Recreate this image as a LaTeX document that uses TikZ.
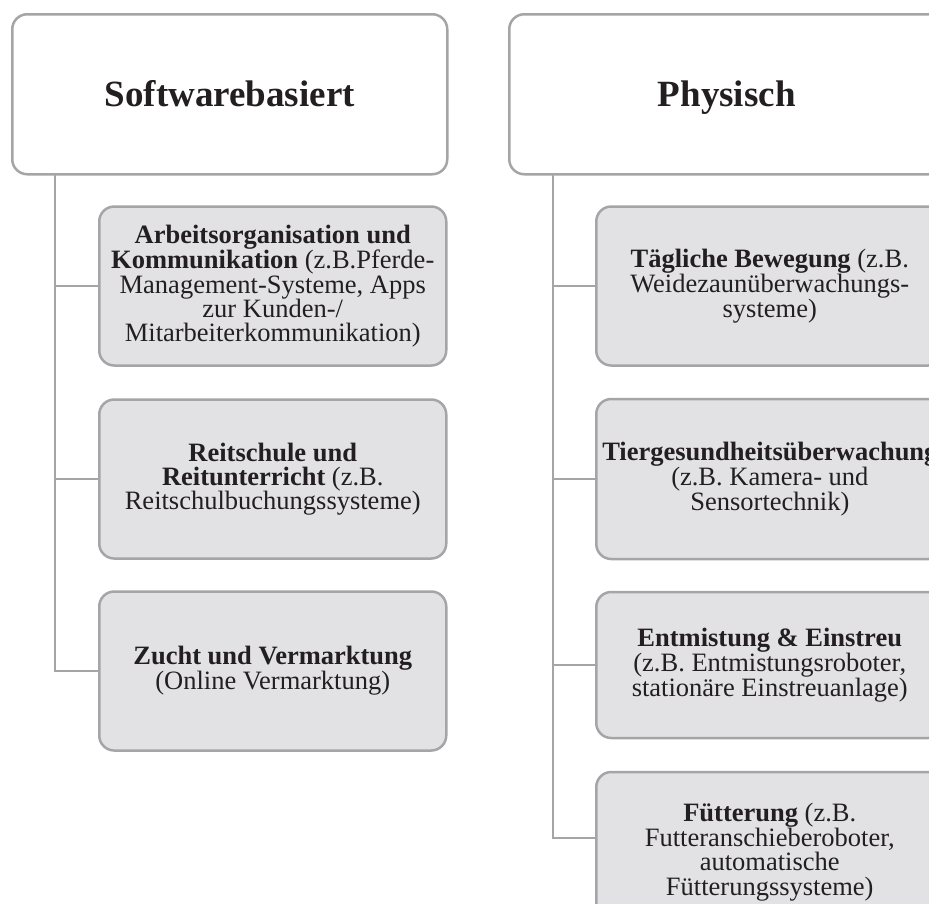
\documentclass[tikz,border=0pt]{standalone}
\usepackage{fontspec}
\setmainfont{Liberation Serif}

\definecolor{linegray}{RGB}{165,165,167}
\definecolor{boxgray}{RGB}{226,226,228}
\definecolor{inkblack}{RGB}{35,31,32}

\begin{document}
\begin{tikzpicture}[x=1pt, y=-1pt,
    every node/.style={text=inkblack},
    kopf/.style={draw=linegray, line width=2.5pt, fill=white, rounded corners=15pt,
      minimum width=435pt, minimum height=160pt, anchor=north west,
      font=\fontsize{37}{40}\selectfont\bfseries, text height=25pt, text depth=0pt},
    feld/.style={draw=linegray, line width=2.5pt, fill=boxgray, rounded corners=15pt,
      minimum width=347pt, anchor=west, align=center, inner xsep=6pt,
      font=\fontsize{26.5}{24.2}\selectfont},
    ast/.style={draw=linegray, line width=2.5pt}]

    \useasboundingbox (0,0) rectangle (929,903);
    \clip (0,0) rectangle (929,903);

    % Kopfzeilen
    \node[kopf] (soft) at (11,13) {Softwarebasiert};
    \node[kopf] (phys) at (508,13) {Physisch};

    \coordinate (softast) at (55,174);
    \coordinate (physast) at (553,174);

    % Softwarebasiert
    \node[feld, minimum height=159pt] (s1) at (98,286)
      {\textbf{Arbeitsorganisation und}\\ \textbf{Kommunikation} (z.B.Pferde-\\
       Management-Systeme, Apps\\ zur Kunden-/\\ Mitarbeiterkommunikation)};
    \node[feld, minimum height=159pt] (s2) at (98,479)
      {\textbf{Reitschule und}\\ \textbf{Reitunterricht} (z.B.\\ Reitschulbuchungssysteme)};
    \node[feld, minimum height=159pt] (s3) at (98,671)
      {\textbf{Zucht und Vermarktung}\\ (Online Vermarktung)};

    % Physisch
    \node[feld, minimum height=159pt] (p1) at (595,286)
      {\textbf{Tägliche Bewegung} (z.B.\\ Weidezaunüberwachungs-\\ systeme)};
    \node[feld, minimum height=160pt] (p2) at (595,479)
      {\textbf{Tiergesundheitsüberwachung}\\ (z.B. Kamera- und\\ Sensortechnik)};
    \node[feld, minimum height=146pt] (p3) at (595,665)
      {\textbf{Entmistung \& Einstreu}\\ (z.B. Entmistungsroboter,\\ stationäre Einstreuanlage)};
    \node[feld, minimum height=160pt] (p4) at (595,852)
      {\textbf{Fütterung} (z.B.\\ Futteranschieberoboter,\\ automatische\\ Fütterungssysteme)};

    \foreach \kind in {s1,s2,s3}
      \draw[ast] (softast) |- (\kind.west);
    \foreach \kind in {p1,p2,p3}
      \draw[ast] (physast) |- (\kind.west);
    \draw[ast] (physast) |- ([yshift=14pt]p4.west);
\end{tikzpicture}
\end{document}
